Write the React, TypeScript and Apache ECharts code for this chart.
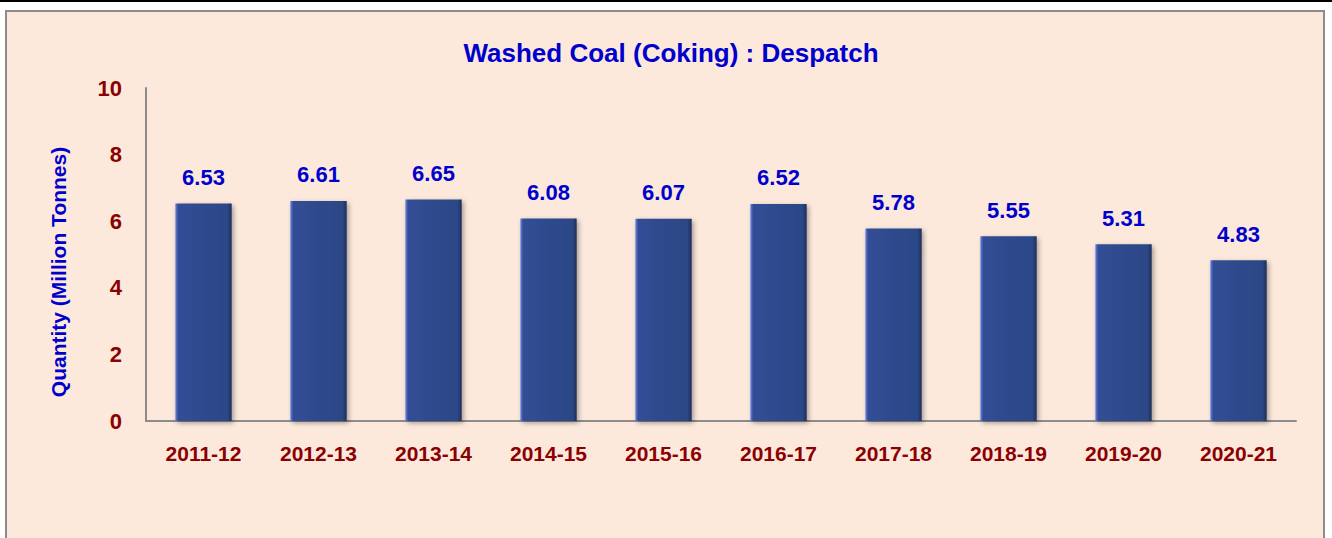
import React, { useEffect, useRef } from "react";
import * as echarts from "echarts";

const categories = ["2011-12", "2012-13", "2013-14", "2014-15", "2015-16", "2016-17", "2017-18", "2018-19", "2019-20", "2020-21"];
const despatch = [6.53, 6.61, 6.65, 6.08, 6.07, 6.52, 5.78, 5.55, 5.31, 4.83];
const yTicks = [0, 2, 4, 6, 8, 10];

const FONT = "'Liberation Sans Narrow', 'Arial Narrow', 'Liberation Sans', Arial, sans-serif";
const RED = "#8B0000";
const BLUE = "#0000CC";

export default function App() {
  const ref = useRef<HTMLDivElement>(null);
  useEffect(() => {
    if (!ref.current) return;
    const chart = echarts.init(ref.current, undefined, { renderer: "svg" });
    chart.setOption({
      animation: false,
      backgroundColor: "transparent",
      title: {
        text: "Washed Coal (Coking) : Despatch",
        left: 666,
        textAlign: "center",
        top: 35,
        textStyle: { color: BLUE, fontSize: 26, fontWeight: "bold", fontFamily: FONT },
      },
      graphic: [
        {
          type: "text",
          x: 58,
          y: 272,
          rotation: Math.PI / 2,
          style: {
            text: "Quantity (Million Tonnes)",
            fill: BLUE,
            font: "bold 21px " + FONT,
            align: "center",
            verticalAlign: "middle",
          },
        },
      ],
      grid: { left: 146, right: 36, top: 88, bottom: 117, containLabel: false },
      xAxis: {
        type: "category",
        data: categories,
        axisLine: { lineStyle: { color: "#8C8C8C", width: 2 } },
        axisTick: { show: false },
        axisLabel: { color: RED, fontSize: 21, fontWeight: "bold", fontFamily: FONT, margin: 22 },
      },
      yAxis: {
        type: "value",
        min: yTicks[0],
        max: yTicks[yTicks.length - 1],
        interval: 2,
        axisLine: { show: true, lineStyle: { color: "#8C8C8C", width: 2 } },
        axisTick: { show: false },
        splitLine: { show: false },
        axisLabel: { color: RED, fontSize: 22, fontWeight: "bold", fontFamily: FONT, margin: 24 },
      },
      series: [
        {
          type: "bar",
          data: despatch,
          barWidth: "49%",
          itemStyle: {
            color: new echarts.graphic.LinearGradient(0, 0, 1, 0, [
              { offset: 0, color: "#6F83E6" },
              { offset: 0.05, color: "#324E96" },
              { offset: 0.5, color: "#2E4A8C" },
              { offset: 0.93, color: "#2C4686" },
              { offset: 1, color: "#1C2C55" },
            ]),
            shadowColor: "rgba(0,0,0,0.35)",
            shadowBlur: 5,
            shadowOffsetX: 2,
            shadowOffsetY: 2,
          },
          label: {
            show: true,
            position: "top",
            distance: 15,
            color: BLUE,
            fontSize: 22,
            fontWeight: "bold",
            fontFamily: FONT,
            formatter: (p: any) => p.value.toFixed(2),
          },
        },
      ],
    });
    return () => chart.dispose();
  }, []);

  return (
    <div style={{ position: "fixed", left: 0, top: 0, width: 1332, height: 538, background: "#ffffff", overflow: "hidden" }}>
      <div style={{ position: "absolute", left: 0, top: 0, width: 1332, height: 2, background: "#000" }} />
      <div
        style={{
          position: "absolute",
          left: 5,
          top: 10,
          width: 1320,
          height: 540,
          border: "2px solid #8C8C8C",
          background: "#FCE9DC",
          boxSizing: "border-box",
        }}
      />
      <div ref={ref} style={{ position: "absolute", left: 0, top: 0, width: 1332, height: 538 }} />
    </div>
  );
}
